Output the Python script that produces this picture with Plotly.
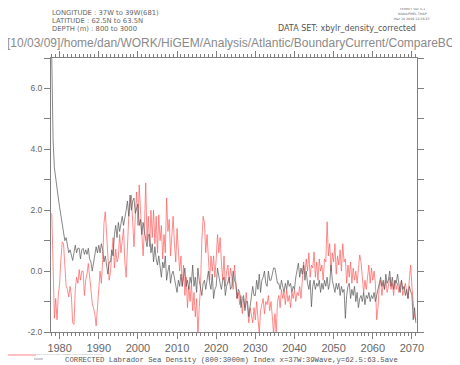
import plotly.graph_objects as go

# ---------------- data (3 samples per year: Jan, May, Sep) ----------------
start_year = 1978
samples_per_year = 3

gray_rows = [
    [7.0, 4.3, 3.4], [3.0, 2.6, 2.4], [2.1, 1.8, 1.6], [1.3, 1.0, 1.1], [0.8, 0.6, 0.7],
    [0.5, 0.35, 0.6], [0.85, 0.6, 0.75], [0.75, 0.4, 0.7], [0.75, 0.55, 0.7], [0.55, 0.75, 0.4],
    [0.3, 0.0, 0.3], [0.5, 0.8, 0.6], [0.85, 0.6, 0.9], [0.7, 0.3, 0.5], [0.2, -0.1, 0.3],
    [0.3, 0.7, 0.5], [1.2, 1.5, 1.1], [1.6, 1.3, 1.5], [1.8, 1.5, 1.7], [2.0, 2.3, 1.8],
    [2.5, 2.0, 2.3], [2.4, 1.9, 2.1], [2.2, 1.5, 1.7], [1.2, 1.6, 1.3], [1.0, 0.8, 1.2],
    [1.2, 0.6, 0.9], [0.3, 0.8, 0.4], [0.2, 0.5, 0.1], [-0.2, 0.3, 0.1], [0.5, -0.3, 0.0],
    [0.2, -0.4, -0.1], [0.0, -0.2, -0.5], [-0.7, -0.3, -0.5], [-0.1, -0.5, -0.2], [0.1, -0.5, -0.3],
    [-0.6, -0.2, -0.4], [0.2, -0.5, -0.2], [-0.7, 0.1, -0.3], [-0.5, -0.8, -0.4], [-0.3, -0.6, -0.2],
    [0.0, -0.4, -0.6], [-0.1, -0.9, -0.6], [-0.5, 0.1, -0.2], [-0.4, -0.6, -0.3], [-0.2, -0.8, -0.5],
    [-0.3, -0.2, -0.6], [-0.5, 0.0, -0.3], [-0.4, -0.9, -0.6], [-0.7, -1.2, -0.9], [-0.8, -1.3, -1.0],
    [-1.0, -1.5, -1.1], [-0.9, -0.5, -0.8], [-0.8, -0.3, -0.6], [-0.1, -0.7, -0.3], [-0.2, 0.0, -0.4],
    [-0.5, 0.0, -0.3], [-0.3, -0.1, 0.1], [0.1, -0.2, -0.4], [-0.4, -0.6, -0.3], [-0.5, -0.7, -0.4],
    [-0.6, -0.3, -0.5], [-0.4, -0.7, -0.5], [-0.6, -0.2, 0.1], [0.26, -0.2, 0.1], [-0.1, 0.2, -0.3],
    [0.0, -0.4, -0.6], [-0.3, -1.17, -0.5], [-0.3, -0.6, -0.4], [-0.5, -0.3, -0.7], [-0.4, -0.6, -0.3],
    [-0.5, -0.2, -0.6], [-0.4, 0.2, -0.3], [-0.5, -0.7, -0.4], [-0.6, -0.4, -0.8], [-0.5, -0.7, -0.6],
    [-1.55, -0.8, -0.5], [-0.4, -0.9, -0.6], [-0.8, -0.5, -1.0], [-0.7, -1.2, -0.9], [-0.8, -1.0, -0.7],
    [-1.1, -0.8, -0.9], [-0.7, -1.0, -0.8], [-0.9, -0.7, -1.0], [-0.8, -0.6, -0.4], [-0.2, -0.5, -0.3],
    [-0.6, -0.1, -0.4], [-0.3, 0.0, -0.5], [-0.2, -0.6, -0.3], [-0.4, -0.1, -0.5], [-0.7, -0.3, -0.6],
    [-0.5, -0.8, -0.6], [-0.9, -0.5, -0.7], [-0.8, -1.6, -1.2], [-1.7],
]

red_rows = [
    [1.9, 0.4, -1.55], [-0.9, -1.6, -0.8], [-0.4, 0.4, 0.96], [0.9, 0.25, -0.5], [-0.6, -0.85, -0.5],
    [-0.8, -1.7, -1.75], [-0.6, -0.2, -0.4], [0.05, -0.3, 0.0], [0.0, -0.8, -0.3], [-0.1, 0.25, -0.3],
    [-0.6, -1.05, -1.2], [-1.4, -1.8, -1.2], [-0.3, 0.0, -0.4], [0.35, 1.57, 1.95], [1.25, 0.35, -0.3],
    [0.0, 0.55, 1.1], [0.1, 0.72, 0.3], [0.45, 1.2, 0.6], [1.0, 1.4, 0.3], [-0.2, 0.8, 1.8],
    [2.2, 2.49, 1.6], [0.8, 1.8, 2.6], [1.5, 2.83, 2.0], [1.2, 0.5, 1.4], [2.9, 1.0, 1.8],
    [0.8, 2.0, 1.1], [2.0, 0.9, 1.8], [0.6, 1.85, 1.0], [1.5, 0.4, 1.2], [0.6, 2.4, 1.3],
    [1.7, 0.5, 1.2], [1.8, 0.9, 0.3], [1.4, 0.6, 0.0], [0.5, -0.5, 0.2], [-0.8, -0.2, -1.2],
    [-0.5, -1.0, -0.4], [-1.3, -0.7, -1.5], [-0.9, -2.05, -1.2], [-0.5, 1.0, 1.8], [1.6, 0.6, 1.2],
    [0.2, -0.3, 0.5], [0.0, 0.5, -0.2], [0.4, 1.2, 0.6], [1.1, 0.3, -0.3], [0.5, -0.5, 0.0],
    [0.2, -0.4, 0.1], [-0.2, -0.6, 0.2], [-0.4, -0.9, -0.7], [-1.1, -0.8, -1.4], [-0.9, -1.2, -0.7],
    [-1.3, -1.7, -1.2], [-1.4, -1.7, -1.2], [-1.6, -1.0, -1.5], [-2.05, -1.3, -1.1], [-0.9, -1.4, -1.0],
    [-1.1, -0.8, -1.3], [-1.0, -1.5, -2.05], [-1.4, -2.05, -1.0], [-0.8, -1.2, -0.6], [-0.9, -0.7, -1.1],
    [-0.6, -1.0, -0.8], [-1.2, -0.7, -0.9], [-0.6, -1.0, -0.7], [-0.8, -0.5, -0.9], [-0.2, 0.3, -0.1],
    [0.4, 0.0, 0.6], [-0.2, 0.2, 0.1], [0.63, -0.2, 0.3], [-0.3, 0.4, 0.0], [0.2, -0.3, 0.4],
    [0.3, 1.62, 0.5], [0.9, 0.0, 0.6], [0.3, 0.9, -0.1], [0.5, 0.2, 0.7], [0.0, 0.9, 0.3],
    [0.4, -0.4, 0.2], [-0.2, 0.3, -0.4], [0.1, -0.3, 0.0], [-0.4, 0.2, 0.53], [0.3, -0.1, -0.7],
    [-0.3, -0.6, -0.2], [0.2, -0.4, 0.1], [-0.3, 0.0, -0.4], [-1.6, -1.2, -0.5], [-0.3, -0.8, -0.4],
    [-0.6, -0.3, -0.7], [-0.5, -0.2, -0.6], [-0.4, -0.8, -0.3], [-0.6, -0.4, -0.7], [-0.5, -0.3, -0.8],
    [-0.6, -0.4, -0.7], [-0.9, -0.3, 0.2], [-0.5, -1.2, -1.5], [-1.6],
]

x_tick_vals = [1980, 1990, 2000, 2010, 2020, 2030, 2040, 2050, 2060, 2070]
x_tick_text = ["1980", "1990", "2000", "2010", "2020", "2030", "2040", "2050", "2060", "2070"]
y_tick_vals = [-2, 0, 2, 4, 6]
y_tick_text = ["-2.0", "0.0", "2.0", "4.0", "6.0"]

header_lines = ["LONGITUDE : 37W to 39W(681)", "LATITUDE : 62.5N to 63.5N", "DEPTH (m) : 800 to 3000"]
dataset_text = "DATA SET: xbylr_density_corrected"
path_text = "[10/03/09]/home/dan/WORK/HiGEM/Analysis/Atlantic/BoundaryCurrent/CompareBC"
ferret_lines = ["FERRET Ver. 6.1", "NOAA/PMEL TMAP", "Mar 10 2009 12:58:23"]
legend_text = "CORRECTED Labrador Sea Density (800:3000m) Index x=37W:39Wave,y=62.5:63.5ave"


def flatten(rows):
    t, v = [], []
    for i, row in enumerate(rows):
        for k, val in enumerate(row):
            t.append(start_year + i + k / samples_per_year)
            v.append(val)
    return t, v


gt, gv = flatten(gray_rows)
rt, rv = flatten(red_rows)

# page body has an 8px margin: figure is laid out in page pixels minus 8
OFF = 8
W, H = 452, 357
L, T = 51 - OFF, 58 - OFF
R = W - (417 - OFF)
B = H - (332 - OFF)
pw, ph = W - L - R, H - T - B


def px(xp):
    return (xp - OFF - L) / pw


def py(yp):
    return (H - B - (yp - OFF)) / ph


fig = go.Figure()
fig.add_trace(go.Scatter(x=rt, y=rv, mode="lines", line=dict(color="#ff5a5a", width=0.7),
                         showlegend=False, hoverinfo="skip"))
fig.add_trace(go.Scatter(x=gt, y=gv, mode="lines", line=dict(color="#555555", width=0.7),
                         showlegend=False, hoverinfo="skip"))

axis_col = "#808080"

fig.update_xaxes(range=[1977.8, 2071.3], showgrid=False, zeroline=False,
                 showline=True, linecolor=axis_col, linewidth=1, mirror="ticks",
                 ticks="outside", ticklen=6, tickcolor=axis_col, tickwidth=1,
                 tickvals=x_tick_vals, ticktext=x_tick_text,
                 tickfont=dict(family="Liberation Sans", size=11, color="#666666"),
                 minor=dict(dtick=1, tick0=1980, ticklen=3, tickcolor=axis_col, ticks="outside", showgrid=False))
fig.update_yaxes(range=[-2, 7], showgrid=False, zeroline=False,
                 showline=True, linecolor=axis_col, linewidth=1, mirror="ticks",
                 ticks="outside", ticklen=6, tickcolor=axis_col, tickwidth=1,
                 tickvals=y_tick_vals, ticktext=y_tick_text,
                 tickfont=dict(family="Liberation Sans", size=8.5, color="#666666"),
                 minor=dict(dtick=1, tick0=0, ticklen=6, tickcolor=axis_col, ticks="outside", showgrid=False))

ann = []
for i, s in enumerate(header_lines):
    ann.append(dict(text=s, x=px(50), y=py(13 + i * 8), xref="paper", yref="paper",
                    xanchor="left", yanchor="middle", showarrow=False,
                    font=dict(family="DejaVu Sans", size=6.8, color="#666666")))
ann.append(dict(text=dataset_text, x=px(418), y=py(29), xref="paper", yref="paper",
                xanchor="right", yanchor="middle", showarrow=False,
                font=dict(family="DejaVu Sans", size=8, color="#555555")))
ann.append(dict(text=path_text, x=px(5), y=py(43), xref="paper", yref="paper",
                xanchor="left", yanchor="middle", showarrow=False,
                font=dict(family="Liberation Sans", size=12, color="#8a8a8a")))
for i, s in enumerate(ferret_lines):
    ann.append(dict(text=s, x=px(412), y=py(9.5 + i * 4.6), xref="paper", yref="paper",
                    xanchor="center", yanchor="middle", showarrow=False,
                    font=dict(family="DejaVu Sans", size=3.2, color="#666666")))
ann.append(dict(text=legend_text, x=px(63), y=py(359.5), xref="paper", yref="paper",
                xanchor="left", yanchor="middle", showarrow=False,
                font=dict(family="Liberation Mono", size=7.3, color="#555555")))
ann.append(dict(text=legend_text, x=px(34), y=py(354), xref="paper", yref="paper",
                xanchor="left", yanchor="middle", showarrow=False,
                font=dict(family="DejaVu Sans", size=1.5, color="#888888")))

shapes = [
    dict(type="line", xref="paper", yref="paper", x0=px(8), x1=px(36), y0=py(355), y1=py(355),
         line=dict(color="#ff6666", width=0.8)),
    dict(type="line", xref="paper", yref="paper", x0=px(34), x1=px(43), y0=py(359), y1=py(359),
         line=dict(color="#888888", width=0.8)),
]

fig.update_layout(width=W, height=H, margin=dict(l=L, r=R, t=T, b=B, pad=0),
                  paper_bgcolor="white", plot_bgcolor="white",
                  annotations=ann, shapes=shapes, showlegend=False)

fig.write_html("out.html")
